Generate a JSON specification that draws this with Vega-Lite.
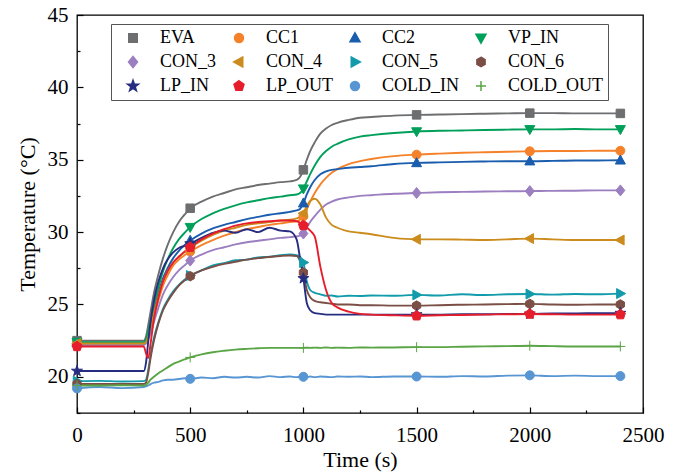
{
  "$schema": "https://vega.github.io/schema/vega-lite/v6.json",
  "width": 566,
  "height": 398,
  "autosize": {"type": "none"},
  "padding": {"left": 77, "top": 15, "right": 41, "bottom": 60},
  "config": {
    "font": "Liberation Serif, Times New Roman, serif",
    "view": {"stroke": "#000", "strokeWidth": 1.3},
    "axis": {
      "domain": false,
      "grid": false,
      "tickColor": "#000",
      "tickWidth": 1.2,
      "labelColor": "#000",
      "labelFont": "Liberation Serif, Times New Roman, serif",
      "labelFontSize": 21,
      "labelFlush": false,
      "labelOverlap": false,
      "titleColor": "#000",
      "titleFont": "Liberation Serif, Times New Roman, serif",
      "titleFontSize": 22,
      "titleFontWeight": "normal"
    },
    "legend": {
      "orient": "none", "legendX": 34, "legendY": 9, "columns": 4, "direction": "horizontal", "title": null,
      "symbolSize": 100, "symbolStrokeWidth": 1.5, "symbolOffset": 8, "labelOffset": 18,
      "labelFont": "Liberation Serif, Times New Roman, serif", "labelFontSize": 18, "labelColor": "#000",
      "columnPadding": 5, "rowPadding": 6, "padding": 5, "strokeColor": "#555"
    }
  },
  "data": {
    "values": [
      {"t": 0, "EVA": 22.5, "CC1": 22.3, "CC2": 22.35, "VP_IN": 22.4, "CON_3": 22.2, "CON_4": 22.3, "CON_5": 19.7, "CON_6": 19.5, "LP_IN": 20.4, "LP_OUT": 22.1, "COLD_IN": 19.2, "COLD_OUT": 19.4},
      {"t": 100, "EVA": 22.5, "CC1": 22.3, "CC2": 22.35, "VP_IN": 22.4, "CON_3": 22.2, "CON_4": 22.3, "CON_5": 19.72, "CON_6": 19.5, "LP_IN": 20.4, "LP_OUT": 22.1, "COLD_IN": 19.3, "COLD_OUT": 19.4},
      {"t": 200, "EVA": 22.5, "CC1": 22.3, "CC2": 22.35, "VP_IN": 22.4, "CON_3": 22.2, "CON_4": 22.3, "CON_5": 19.68, "CON_6": 19.5, "LP_IN": 20.4, "LP_OUT": 22.1, "COLD_IN": 19.22, "COLD_OUT": 19.42},
      {"t": 295, "EVA": 22.5, "CC1": 22.3, "CC2": 22.35, "VP_IN": 22.4, "CON_3": 22.2, "CON_4": 22.3, "CON_5": 19.7, "CON_6": 19.5, "LP_IN": 20.4, "LP_OUT": 22.1, "COLD_IN": 19.3, "COLD_OUT": 19.4},
      {"t": 305, "EVA": 22.8, "CC1": 22.4, "CC2": 22.5, "VP_IN": 22.6, "CON_3": 22.3, "CON_4": 22.4, "CON_5": 19.8, "CON_6": 19.6, "LP_IN": 21.0, "LP_OUT": 21.6, "COLD_IN": 19.35, "COLD_OUT": 19.45},
      {"t": 315, "EVA": 23.6, "CC1": 22.8, "CC2": 23.0, "VP_IN": 23.2, "CON_3": 22.6, "CON_4": 22.8, "CON_5": 20.5, "CON_6": 20.3, "LP_IN": 22.5, "LP_OUT": 21.3, "COLD_IN": 19.4, "COLD_OUT": 19.6},
      {"t": 325, "EVA": 24.5, "CC1": 23.3, "CC2": 23.6, "VP_IN": 23.9, "CON_3": 23.0, "CON_4": 23.4, "CON_5": 21.5, "CON_6": 21.3, "LP_IN": 23.8, "LP_OUT": 22.3, "COLD_IN": 19.5, "COLD_OUT": 19.8},
      {"t": 340, "EVA": 25.8, "CC1": 24.2, "CC2": 24.6, "VP_IN": 25.0, "CON_3": 23.8, "CON_4": 24.4, "CON_5": 22.7, "CON_6": 22.5, "LP_IN": 25.3, "LP_OUT": 24.0, "COLD_IN": 19.6, "COLD_OUT": 20.0},
      {"t": 360, "EVA": 27.1, "CC1": 25.3, "CC2": 25.8, "VP_IN": 26.2, "CON_3": 24.8, "CON_4": 25.6, "CON_5": 23.8, "CON_6": 23.7, "LP_IN": 26.6, "LP_OUT": 25.5, "COLD_IN": 19.65, "COLD_OUT": 20.25},
      {"t": 380, "EVA": 28.2, "CC1": 26.3, "CC2": 26.8, "VP_IN": 27.3, "CON_3": 25.7, "CON_4": 26.6, "CON_5": 24.7, "CON_6": 24.6, "LP_IN": 27.5, "LP_OUT": 26.6, "COLD_IN": 19.75, "COLD_OUT": 20.45},
      {"t": 400, "EVA": 29.1, "CC1": 27.0, "CC2": 27.5, "VP_IN": 28.1, "CON_3": 26.3, "CON_4": 27.3, "CON_5": 25.3, "CON_6": 25.2, "LP_IN": 28.1, "LP_OUT": 27.3, "COLD_IN": 19.8, "COLD_OUT": 20.65},
      {"t": 425, "EVA": 30.0, "CC1": 27.7, "CC2": 28.2, "VP_IN": 28.9, "CON_3": 26.9, "CON_4": 27.9, "CON_5": 25.9, "CON_6": 25.8, "LP_IN": 28.6, "LP_OUT": 27.9, "COLD_IN": 19.8, "COLD_OUT": 20.9},
      {"t": 450, "EVA": 30.7, "CC1": 28.1, "CC2": 28.7, "VP_IN": 29.5, "CON_3": 27.35, "CON_4": 28.3, "CON_5": 26.35, "CON_6": 26.3, "LP_IN": 28.9, "LP_OUT": 28.3, "COLD_IN": 19.85, "COLD_OUT": 21.05},
      {"t": 475, "EVA": 31.2, "CC1": 28.4, "CC2": 29.1, "VP_IN": 29.95, "CON_3": 27.7, "CON_4": 28.6, "CON_5": 26.7, "CON_6": 26.65, "LP_IN": 29.05, "LP_OUT": 28.65, "COLD_IN": 19.9, "COLD_OUT": 21.2},
      {"t": 500, "EVA": 31.65, "CC1": 28.65, "CC2": 29.42, "VP_IN": 30.34, "CON_3": 28.03, "CON_4": 28.9, "CON_5": 27.0, "CON_6": 26.95, "LP_IN": 29.2, "LP_OUT": 28.96, "COLD_IN": 19.86, "COLD_OUT": 21.34},
      {"t": 550, "EVA": 32.1, "CC1": 29.1, "CC2": 29.9, "VP_IN": 30.9, "CON_3": 28.45, "CON_4": 29.4, "CON_5": 27.35, "CON_6": 27.35, "LP_IN": 29.6, "LP_OUT": 29.5, "COLD_IN": 19.95, "COLD_OUT": 21.55},
      {"t": 600, "EVA": 32.45, "CC1": 29.45, "CC2": 30.25, "VP_IN": 31.3, "CON_3": 28.75, "CON_4": 29.8, "CON_5": 27.7, "CON_6": 27.6, "LP_IN": 29.95, "LP_OUT": 29.9, "COLD_IN": 19.9, "COLD_OUT": 21.7},
      {"t": 650, "EVA": 32.7, "CC1": 29.75, "CC2": 30.5, "VP_IN": 31.6, "CON_3": 28.95, "CON_4": 30.1, "CON_5": 27.85, "CON_6": 27.8, "LP_IN": 30.1, "LP_OUT": 30.2, "COLD_IN": 20.0, "COLD_OUT": 21.8},
      {"t": 700, "EVA": 32.95, "CC1": 30.0, "CC2": 30.7, "VP_IN": 31.85, "CON_3": 29.15, "CON_4": 30.3, "CON_5": 28.05, "CON_6": 27.95, "LP_IN": 29.95, "LP_OUT": 30.45, "COLD_IN": 19.95, "COLD_OUT": 21.88},
      {"t": 750, "EVA": 33.1, "CC1": 30.2, "CC2": 30.9, "VP_IN": 32.05, "CON_3": 29.3, "CON_4": 30.5, "CON_5": 28.1, "CON_6": 28.1, "LP_IN": 30.2, "LP_OUT": 30.6, "COLD_IN": 20.0, "COLD_OUT": 21.93},
      {"t": 800, "EVA": 33.25, "CC1": 30.35, "CC2": 31.05, "VP_IN": 32.2, "CON_3": 29.4, "CON_4": 30.6, "CON_5": 28.25, "CON_6": 28.2, "LP_IN": 30.0, "LP_OUT": 30.7, "COLD_IN": 19.95, "COLD_OUT": 21.97},
      {"t": 850, "EVA": 33.35, "CC1": 30.5, "CC2": 31.2, "VP_IN": 32.35, "CON_3": 29.5, "CON_4": 30.7, "CON_5": 28.3, "CON_6": 28.28, "LP_IN": 30.3, "LP_OUT": 30.75, "COLD_IN": 20.05, "COLD_OUT": 22.0},
      {"t": 900, "EVA": 33.45, "CC1": 30.6, "CC2": 31.3, "VP_IN": 32.45, "CON_3": 29.6, "CON_4": 30.8, "CON_5": 28.4, "CON_6": 28.35, "LP_IN": 30.1, "LP_OUT": 30.8, "COLD_IN": 19.98, "COLD_OUT": 22.0},
      {"t": 940, "EVA": 33.5, "CC1": 30.7, "CC2": 31.4, "VP_IN": 32.55, "CON_3": 29.65, "CON_4": 30.85, "CON_5": 28.45, "CON_6": 28.38, "LP_IN": 30.05, "LP_OUT": 30.8, "COLD_IN": 20.02, "COLD_OUT": 22.0},
      {"t": 970, "EVA": 33.6, "CC1": 30.75, "CC2": 31.5, "VP_IN": 32.6, "CON_3": 29.7, "CON_4": 30.95, "CON_5": 28.4, "CON_6": 28.35, "LP_IN": 29.5, "LP_OUT": 30.75, "COLD_IN": 19.98, "COLD_OUT": 22.0},
      {"t": 985, "EVA": 33.8, "CC1": 30.85, "CC2": 31.6, "VP_IN": 32.7, "CON_3": 29.75, "CON_4": 31.05, "CON_5": 28.3, "CON_6": 28.0, "LP_IN": 28.2, "LP_OUT": 30.65, "COLD_IN": 20.0, "COLD_OUT": 22.0},
      {"t": 1000, "EVA": 34.3, "CC1": 31.1, "CC2": 32.0, "VP_IN": 33.0, "CON_3": 29.9, "CON_4": 31.3, "CON_5": 27.9, "CON_6": 27.2, "LP_IN": 26.8, "LP_OUT": 30.46, "COLD_IN": 20.0, "COLD_OUT": 22.0},
      {"t": 1015, "EVA": 35.0, "CC1": 31.6, "CC2": 32.6, "VP_IN": 33.5, "CON_3": 30.3, "CON_4": 31.8, "CON_5": 26.6, "CON_6": 26.0, "LP_IN": 25.1, "LP_OUT": 30.3, "COLD_IN": 19.98, "COLD_OUT": 22.02},
      {"t": 1030, "EVA": 35.6, "CC1": 32.1, "CC2": 33.1, "VP_IN": 34.0, "CON_3": 30.7, "CON_4": 32.15, "CON_5": 26.0, "CON_6": 25.5, "LP_IN": 24.6, "LP_OUT": 30.1, "COLD_IN": 20.02, "COLD_OUT": 22.0},
      {"t": 1050, "EVA": 36.2, "CC1": 32.7, "CC2": 33.6, "VP_IN": 34.6, "CON_3": 31.1, "CON_4": 32.3, "CON_5": 25.8, "CON_6": 25.25, "LP_IN": 24.4, "LP_OUT": 29.7, "COLD_IN": 19.98, "COLD_OUT": 22.02},
      {"t": 1075, "EVA": 36.8, "CC1": 33.3, "CC2": 34.0, "VP_IN": 35.2, "CON_3": 31.55, "CON_4": 31.9, "CON_5": 25.7, "CON_6": 25.15, "LP_IN": 24.35, "LP_OUT": 27.6, "COLD_IN": 20.02, "COLD_OUT": 22.0},
      {"t": 1100, "EVA": 37.15, "CC1": 33.75, "CC2": 34.2, "VP_IN": 35.6, "CON_3": 31.9, "CON_4": 31.0, "CON_5": 25.6, "CON_6": 25.1, "LP_IN": 24.3, "LP_OUT": 26.0, "COLD_IN": 20.0, "COLD_OUT": 22.03},
      {"t": 1125, "EVA": 37.4, "CC1": 34.1, "CC2": 34.3, "VP_IN": 35.9, "CON_3": 32.1, "CON_4": 30.5, "CON_5": 25.62, "CON_6": 25.05, "LP_IN": 24.3, "LP_OUT": 25.1, "COLD_IN": 19.98, "COLD_OUT": 22.0},
      {"t": 1150, "EVA": 37.55, "CC1": 34.35, "CC2": 34.35, "VP_IN": 36.1, "CON_3": 32.25, "CON_4": 30.3, "CON_5": 25.55, "CON_6": 25.0, "LP_IN": 24.3, "LP_OUT": 24.8, "COLD_IN": 20.02, "COLD_OUT": 22.02},
      {"t": 1200, "EVA": 37.75, "CC1": 34.7, "CC2": 34.45, "VP_IN": 36.4, "CON_3": 32.4, "CON_4": 30.05, "CON_5": 25.6, "CON_6": 25.0, "LP_IN": 24.3, "LP_OUT": 24.5, "COLD_IN": 20.0, "COLD_OUT": 22.0},
      {"t": 1250, "EVA": 37.9, "CC1": 34.9, "CC2": 34.5, "VP_IN": 36.6, "CON_3": 32.5, "CON_4": 29.95, "CON_5": 25.58, "CON_6": 24.95, "LP_IN": 24.3, "LP_OUT": 24.35, "COLD_IN": 20.02, "COLD_OUT": 22.03},
      {"t": 1300, "EVA": 37.95, "CC1": 35.05, "CC2": 34.55, "VP_IN": 36.7, "CON_3": 32.55, "CON_4": 29.85, "CON_5": 25.62, "CON_6": 24.95, "LP_IN": 24.3, "LP_OUT": 24.3, "COLD_IN": 19.98, "COLD_OUT": 22.02},
      {"t": 1400, "EVA": 38.05, "CC1": 35.25, "CC2": 34.7, "VP_IN": 36.85, "CON_3": 32.65, "CON_4": 29.6, "CON_5": 25.6, "CON_6": 24.92, "LP_IN": 24.3, "LP_OUT": 24.25, "COLD_IN": 20.02, "COLD_OUT": 22.03},
      {"t": 1500, "EVA": 38.1, "CC1": 35.35, "CC2": 34.78, "VP_IN": 36.95, "CON_3": 32.7, "CON_4": 29.5, "CON_5": 25.66, "CON_6": 24.92, "LP_IN": 24.3, "LP_OUT": 24.22, "COLD_IN": 20.02, "COLD_OUT": 22.05},
      {"t": 1600, "EVA": 38.12, "CC1": 35.42, "CC2": 34.82, "VP_IN": 37.0, "CON_3": 32.75, "CON_4": 29.5, "CON_5": 25.62, "CON_6": 24.95, "LP_IN": 24.3, "LP_OUT": 24.25, "COLD_IN": 20.0, "COLD_OUT": 22.05},
      {"t": 1700, "EVA": 38.15, "CC1": 35.48, "CC2": 34.85, "VP_IN": 37.02, "CON_3": 32.78, "CON_4": 29.48, "CON_5": 25.7, "CON_6": 24.98, "LP_IN": 24.32, "LP_OUT": 24.27, "COLD_IN": 20.05, "COLD_OUT": 22.08},
      {"t": 1800, "EVA": 38.18, "CC1": 35.52, "CC2": 34.88, "VP_IN": 37.05, "CON_3": 32.8, "CON_4": 29.45, "CON_5": 25.65, "CON_6": 25.0, "LP_IN": 24.32, "LP_OUT": 24.3, "COLD_IN": 20.02, "COLD_OUT": 22.1},
      {"t": 1900, "EVA": 38.2, "CC1": 35.55, "CC2": 34.9, "VP_IN": 37.08, "CON_3": 32.82, "CON_4": 29.5, "CON_5": 25.7, "CON_6": 25.02, "LP_IN": 24.35, "LP_OUT": 24.32, "COLD_IN": 20.08, "COLD_OUT": 22.12},
      {"t": 2000, "EVA": 38.22, "CC1": 35.58, "CC2": 34.9, "VP_IN": 37.1, "CON_3": 32.83, "CON_4": 29.55, "CON_5": 25.72, "CON_6": 25.04, "LP_IN": 24.35, "LP_OUT": 24.34, "COLD_IN": 20.1, "COLD_OUT": 22.15},
      {"t": 2100, "EVA": 38.22, "CC1": 35.6, "CC2": 34.92, "VP_IN": 37.1, "CON_3": 32.85, "CON_4": 29.5, "CON_5": 25.68, "CON_6": 25.0, "LP_IN": 24.38, "LP_OUT": 24.32, "COLD_IN": 20.05, "COLD_OUT": 22.12},
      {"t": 2200, "EVA": 38.2, "CC1": 35.6, "CC2": 34.95, "VP_IN": 37.12, "CON_3": 32.86, "CON_4": 29.45, "CON_5": 25.72, "CON_6": 24.98, "LP_IN": 24.38, "LP_OUT": 24.3, "COLD_IN": 20.08, "COLD_OUT": 22.1},
      {"t": 2300, "EVA": 38.2, "CC1": 35.62, "CC2": 34.95, "VP_IN": 37.1, "CON_3": 32.88, "CON_4": 29.45, "CON_5": 25.7, "CON_6": 25.0, "LP_IN": 24.4, "LP_OUT": 24.3, "COLD_IN": 20.05, "COLD_OUT": 22.1},
      {"t": 2400, "EVA": 38.2, "CC1": 35.62, "CC2": 34.96, "VP_IN": 37.1, "CON_3": 32.88, "CON_4": 29.45, "CON_5": 25.75, "CON_6": 25.0, "LP_IN": 24.4, "LP_OUT": 24.3, "COLD_IN": 20.05, "COLD_OUT": 22.1}
    ]
  },
  "transform": [
    {"fold": ["EVA", "CC1", "CC2", "VP_IN", "CON_3", "CON_4", "CON_5", "CON_6", "LP_IN", "LP_OUT", "COLD_IN", "COLD_OUT"], "as": ["series", "v"]}
  ],
  "layer": [
    {
      "mark": {"type": "line", "strokeWidth": 1.9, "interpolate": "monotone"},
      "encoding": {
        "x": {
          "field": "t", "type": "quantitative",
          "scale": {"domain": [0, 2500], "nice": false},
          "axis": {"orient": "bottom", "values": [0, 500, 1000, 1500, 2000, 2500], "format": "d", "title": "Time (s)", "tickSize": -6, "labelPadding": 17, "titlePadding": 4}
        },
        "y": {
          "field": "v", "type": "quantitative",
          "scale": {"domain": [17.5, 45], "nice": false, "zero": false},
          "axis": {"orient": "left", "values": [20, 25, 30, 35, 40, 45], "format": "d", "title": "Temperature (°C)", "tickSize": -6, "labelPadding": 15, "titlePadding": 8}
        },
        "color": {
          "field": "series", "type": "nominal",
          "scale": {
            "domain": ["EVA", "CC1", "CC2", "VP_IN", "CON_3", "CON_4", "CON_5", "CON_6", "LP_IN", "LP_OUT", "COLD_IN", "COLD_OUT"],
            "range": ["#6d6e70", "#f5822a", "#1a5cad", "#00a05a", "#9c7fc0", "#cc8c1d", "#129bab", "#7b4e46", "#262d80", "#e61e2b", "#5896d3", "#5aa545"]
          }
        }
      }
    },
    {
      "transform": [{"filter": "indexof([0, 500, 1000, 1500, 2000, 2400], datum.t) >= 0"}],
      "mark": {"type": "point", "filled": true, "size": 100, "opacity": 1, "strokeWidth": 1},
      "encoding": {
        "x": {
          "field": "t", "type": "quantitative",
          "axis": {"orient": "bottom", "values": [250, 750, 1250, 1750, 2250], "labels": false, "title": null, "tickSize": -3}
        },
        "y": {
          "field": "v", "type": "quantitative",
          "axis": {"orient": "left", "values": [17.5, 22.5, 27.5, 32.5, 37.5, 42.5], "labels": false, "title": null, "tickSize": -3}
        },
        "color": {"field": "series", "type": "nominal"},
        "shape": {
          "field": "series", "type": "nominal",
          "scale": {
            "domain": ["EVA", "CC1", "CC2", "VP_IN", "CON_3", "CON_4", "CON_5", "CON_6", "LP_IN", "LP_OUT", "COLD_IN", "COLD_OUT"],
            "range": [
              "M-0.85,-0.85H0.85V0.85H-0.85Z",
              "M0.9,0A0.9,0.9,0,1,1,-0.9,0A0.9,0.9,0,1,1,0.9,0Z",
              "M0,-1.05L1,0.75L-1,0.75Z",
              "M0,1.05L1,-0.75L-1,-0.75Z",
              "M0,-1.1L0.9,0L0,1.1L-0.9,0Z",
              "M-1.05,0L0.75,-1L0.75,1Z",
              "M1.05,0L-0.75,-1L-0.75,1Z",
              "M0,-0.95L0.82,-0.48L0.82,0.48L0,0.95L-0.82,0.48L-0.82,-0.48Z",
              "M0,-1.15L0.27,-0.37L1.09,-0.36L0.44,0.14L0.68,0.93L0,0.46L-0.68,0.93L-0.44,0.14L-1.09,-0.36L-0.27,-0.37Z",
              "M0,-1.05L1,-0.32L0.62,0.85L-0.62,0.85L-1,-0.32Z",
              "M0.9,0A0.9,0.9,0,1,1,-0.9,0A0.9,0.9,0,1,1,0.9,0Z",
              "M0,-1V1M-1,0H1"
            ]
          }
        },
        "stroke": {
          "field": "series", "type": "nominal",
          "scale": {
            "domain": ["EVA", "CC1", "CC2", "VP_IN", "CON_3", "CON_4", "CON_5", "CON_6", "LP_IN", "LP_OUT", "COLD_IN", "COLD_OUT"],
            "range": ["#6d6e70", "#f5822a", "#1a5cad", "#00a05a", "#9c7fc0", "#cc8c1d", "#129bab", "#7b4e46", "#262d80", "#e61e2b", "#5896d3", "#5aa545"]
          }
        }
      }
    }
  ],
  "resolve": {"axis": {"x": "independent", "y": "independent"}}
}
